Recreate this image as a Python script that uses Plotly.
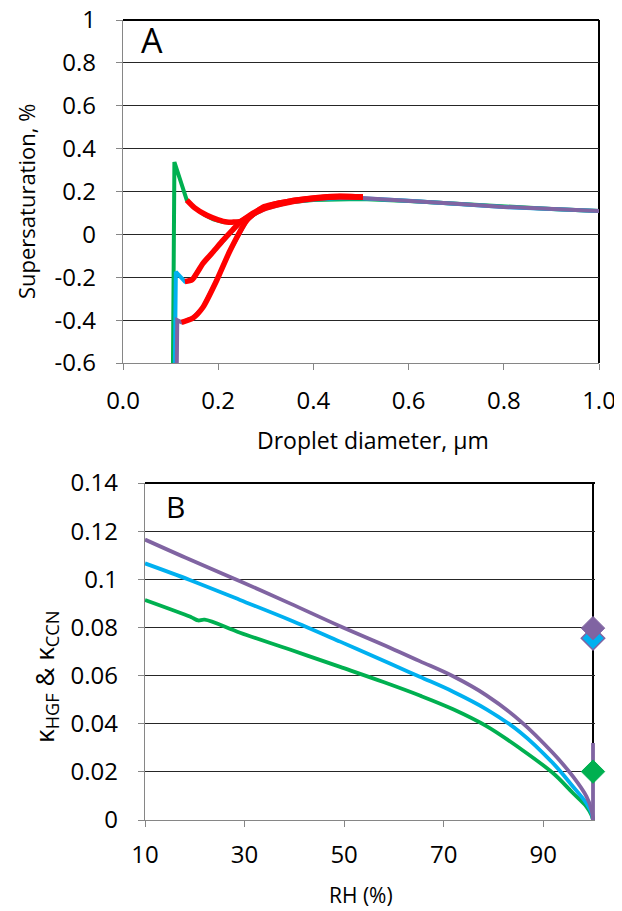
import plotly.graph_objects as go

W, H = 622, 911
FONT = "Open Sans"
OFF = 8  # page body margin offset (screen px -> figure px)

# ---------------- Panel A data ----------------
green_a_x = [0.105, 0.108, 0.134, 0.15, 0.17, 0.19, 0.21, 0.23, 0.25, 0.27, 0.294, 0.32, 0.35, 0.40, 0.45, 0.50, 0.60, 0.70, 0.80, 0.90, 1.00]
green_a_y = [-0.60, 0.337, 0.160, 0.125, 0.092, 0.070, 0.058, 0.055, 0.062, 0.085, 0.118, 0.138, 0.150, 0.160, 0.163, 0.165, 0.156, 0.142, 0.128, 0.118, 0.109]

blue_a_x = [0.109, 0.111, 0.130, 0.145, 0.168, 0.19, 0.21, 0.23, 0.246, 0.27, 0.30, 0.35, 0.40, 0.45, 0.50, 0.60, 0.70, 0.80, 0.90, 1.00]
blue_a_y = [-0.60, -0.175, -0.220, -0.212, -0.135, -0.080, -0.028, 0.020, 0.056, 0.090, 0.120, 0.150, 0.163, 0.168, 0.168, 0.157, 0.142, 0.128, 0.118, 0.109]

purple_a_x = [0.113, 0.114, 0.123, 0.147, 0.168, 0.197, 0.225, 0.26, 0.294, 0.35, 0.40, 0.45, 0.50, 0.60, 0.70, 0.80, 0.90, 1.00]
purple_a_y = [-0.60, -0.400, -0.410, -0.390, -0.340, -0.214, -0.075, 0.065, 0.127, 0.155, 0.168, 0.172, 0.170, 0.158, 0.143, 0.128, 0.118, 0.109]

red1_x = [0.134, 0.15, 0.176, 0.20, 0.218, 0.246, 0.274, 0.294, 0.316, 0.35, 0.386, 0.42, 0.45, 0.48, 0.504]
red1_y = [0.160, 0.125, 0.089, 0.068, 0.058, 0.060, 0.100, 0.122, 0.140, 0.155, 0.166, 0.174, 0.178, 0.177, 0.174]

red2_x = [0.130, 0.145, 0.168, 0.19, 0.21, 0.23, 0.246, 0.27, 0.30, 0.35, 0.40, 0.45, 0.504]
red2_y = [-0.220, -0.212, -0.135, -0.080, -0.028, 0.020, 0.056, 0.090, 0.122, 0.150, 0.166, 0.175, 0.174]

red3_x = [0.123, 0.147, 0.168, 0.197, 0.225, 0.26, 0.294, 0.35, 0.40, 0.45, 0.504]
red3_y = [-0.410, -0.390, -0.340, -0.214, -0.075, 0.065, 0.127, 0.155, 0.168, 0.176, 0.174]

a_xticks = [0.0, 0.2, 0.4, 0.6, 0.8, 1.0]
a_xticklabels = ["0.0", "0.2", "0.4", "0.6", "0.8", "1.0"]
a_yticks = [-0.6, -0.4, -0.2, 0, 0.2, 0.4, 0.6, 0.8, 1]
a_yticklabels = ["-0.6", "-0.4", "-0.2", "0", "0.2", "0.4", "0.6", "0.8", "1"]

# ---------------- Panel B data ----------------
purple_b_x = [10, 19.0, 29.1, 39.1, 49.2, 59.2, 65.2, 71.9, 78.6, 85.3, 92.0, 96.0, 98.7, 99.7, 100]
purple_b_y = [0.1165, 0.1082, 0.0992, 0.0900, 0.0805, 0.0716, 0.0660, 0.0597, 0.0518, 0.0413, 0.0277, 0.0180, 0.0097, 0.0042, 0.0]
purple_spike_x = [100, 100]
purple_spike_y = [0.0, 0.0320]

blue_b_x = [10, 19.0, 29.1, 39.1, 49.2, 59.2, 65.2, 71.9, 78.6, 85.3, 92.0, 96.0, 98.7, 99.7, 100]
blue_b_y = [0.1066, 0.0997, 0.0914, 0.0831, 0.0741, 0.0650, 0.0595, 0.0533, 0.0460, 0.0366, 0.0235, 0.0138, 0.0069, 0.0030, 0.0]

green_b_x = [10, 19.0, 19.7, 20.7, 22.0, 29.1, 39.1, 49.2, 57.9, 65.2, 71.9, 78.6, 85.3, 92.0, 96.0, 98.7, 99.7, 100]
green_b_y = [0.0914, 0.0845, 0.0838, 0.0829, 0.0832, 0.0778, 0.0708, 0.0636, 0.0573, 0.0517, 0.0460, 0.0390, 0.0298, 0.0194, 0.0111, 0.0055, 0.0020, 0.0]

ccn_rh = [100]
ccn_blue = [0.0755]
ccn_purple = [0.0797]
ccn_green = [0.0201]

b_xticks = [10, 30, 50, 70, 90]
b_xticklabels = ["10", "30", "50", "70", "90"]
b_yticks = [0, 0.02, 0.04, 0.06, 0.08, 0.10, 0.12, 0.14]
b_yticklabels = ["0", "0.02", "0.04", "0.06", "0.08", "0.1", "0.12", "0.14"]

GREEN = "#00B050"
BLUE = "#00B0F0"
PURPLE = "#8064A2"
RED = "#FF0000"

fig = go.Figure()

# Panel A traces
for xs, ys, c in [(green_a_x, green_a_y, GREEN), (blue_a_x, blue_a_y, BLUE), (purple_a_x, purple_a_y, PURPLE)]:
    fig.add_trace(go.Scatter(x=xs, y=ys, mode="lines", line=dict(color=c, width=4),
                             xaxis="x", yaxis="y", showlegend=False, hoverinfo="skip"))
for xs, ys in [(red1_x, red1_y), (red2_x, red2_y), (red3_x, red3_y)]:
    fig.add_trace(go.Scatter(x=xs, y=ys, mode="lines", line=dict(color=RED, width=5.5, shape="spline", smoothing=0.6),
                             xaxis="x", yaxis="y", showlegend=False, hoverinfo="skip"))

# Panel B traces
for xs, ys, c in [(green_b_x, green_b_y, GREEN), (blue_b_x, blue_b_y, BLUE), (purple_b_x, purple_b_y, PURPLE)]:
    fig.add_trace(go.Scatter(x=xs, y=ys, mode="lines", line=dict(color=c, width=3.8, shape="spline", smoothing=1.0),
                             xaxis="x2", yaxis="y2", showlegend=False, hoverinfo="skip"))
fig.add_trace(go.Scatter(x=purple_spike_x, y=purple_spike_y, mode="lines", line=dict(color=PURPLE, width=3.8),
                         xaxis="x2", yaxis="y2", showlegend=False, hoverinfo="skip"))
fig.add_trace(go.Scatter(x=ccn_rh, y=ccn_blue, mode="markers", cliponaxis=False,
                         marker=dict(symbol="diamond", size=18, color=BLUE, line=dict(color=PURPLE, width=1.5)),
                         xaxis="x2", yaxis="y2", showlegend=False, hoverinfo="skip"))
fig.add_trace(go.Scatter(x=ccn_rh, y=ccn_purple, mode="markers", cliponaxis=False,
                         marker=dict(symbol="diamond", size=18, color=PURPLE, line=dict(color=PURPLE, width=1)),
                         xaxis="x2", yaxis="y2", showlegend=False, hoverinfo="skip"))
fig.add_trace(go.Scatter(x=ccn_rh, y=ccn_green, mode="markers", cliponaxis=False,
                         marker=dict(symbol="diamond", size=18, color=GREEN, line=dict(color=GREEN, width=1)),
                         xaxis="x2", yaxis="y2", showlegend=False, hoverinfo="skip"))

def px_x(p):
    return (p - OFF) / W

def px_y(p):
    return 1 - (p - OFF) / H

tickfont = dict(family=FONT, size=24, color="#000000")
axis_common = dict(showline=True, linecolor="#868686", linewidth=1.3, ticks="outside",
                   tickcolor="#868686", ticklen=6, tickwidth=1.3, zeroline=False,
                   tickfont=tickfont, automargin=False, fixedrange=True,
                   ticklabeloverflow="allow")

fig.update_layout(
    width=W, height=H,
    margin=dict(l=0, r=0, t=0, b=0),
    paper_bgcolor="white", plot_bgcolor="white",
    font=dict(family=FONT, color="#000000"),
    xaxis=dict(domain=[px_x(123), px_x(599)], range=[0, 1.0], anchor="y",
               tickvals=a_xticks, ticktext=a_xticklabels, showgrid=False,
               ticklabelstandoff=10, **axis_common),
    yaxis=dict(domain=[px_y(363), px_y(20)], range=[-0.6, 1.0], anchor="x",
               tickvals=a_yticks, ticktext=a_yticklabels, showgrid=True,
               gridcolor="#262626", gridwidth=1.3, ticklabelstandoff=15, **axis_common),
    xaxis2=dict(domain=[px_x(145), px_x(595)], range=[10, 100.4], anchor="y2",
                tickvals=b_xticks, ticktext=b_xticklabels, showgrid=False,
                ticklabelstandoff=7, **axis_common),
    yaxis2=dict(domain=[px_y(820), px_y(483)], range=[0, 0.14], anchor="x2",
                tickvals=b_yticks, ticktext=b_yticklabels, showgrid=True,
                gridcolor="#262626", gridwidth=1.3, ticklabelstandoff=15, **axis_common),
)

# Plot-area borders (top and right) in black
fig.add_shape(type="line", xref="x domain", yref="y domain", x0=0, x1=1, y0=1, y1=1,
              line=dict(color="#000000", width=2), layer="below")
fig.add_shape(type="line", xref="x domain", yref="y domain", x0=1, x1=1, y0=0, y1=1,
              line=dict(color="#000000", width=2), layer="below")
fig.add_shape(type="line", xref="x2 domain", yref="y2 domain", x0=0, x1=1, y0=1, y1=1,
              line=dict(color="#000000", width=2), layer="below")
fig.add_shape(type="line", xref="x2", yref="y2 domain", x0=100, x1=100, y0=0, y1=1,
              line=dict(color="#000000", width=2), layer="below")

ann = []
ann.append(dict(text="A", x=px_x(152), y=px_y(40), xref="paper", yref="paper", showarrow=False,
                font=dict(family=FONT, size=34), xanchor="center", yanchor="middle"))
ann.append(dict(text="B", x=px_x(175), y=px_y(506), xref="paper", yref="paper", showarrow=False,
                font=dict(family=FONT, size=30), xanchor="center", yanchor="middle"))
ann.append(dict(text="Supersaturation, %", x=px_x(26), y=px_y(202), xref="paper", yref="paper",
                showarrow=False, textangle=-90, font=dict(family=FONT, size=22),
                xanchor="center", yanchor="middle"))
ann.append(dict(text="Droplet diameter, μm", x=px_x(373), y=px_y(440), xref="paper", yref="paper",
                showarrow=False, font=dict(family=FONT, size=23), xanchor="center", yanchor="middle"))
ann.append(dict(text="κ<sub>HGF</sub> &amp; κ<sub>CCN</sub>", x=px_x(45), y=px_y(677), xref="paper", yref="paper",
                showarrow=False, textangle=-90, font=dict(family=FONT, size=26),
                xanchor="center", yanchor="middle"))
ann.append(dict(text="RH (%)", x=px_x(361), y=px_y(895), xref="paper", yref="paper",
                showarrow=False, font=dict(family=FONT, size=21), xanchor="center", yanchor="middle"))
fig.update_layout(annotations=ann)

fig.write_html("out.html")
